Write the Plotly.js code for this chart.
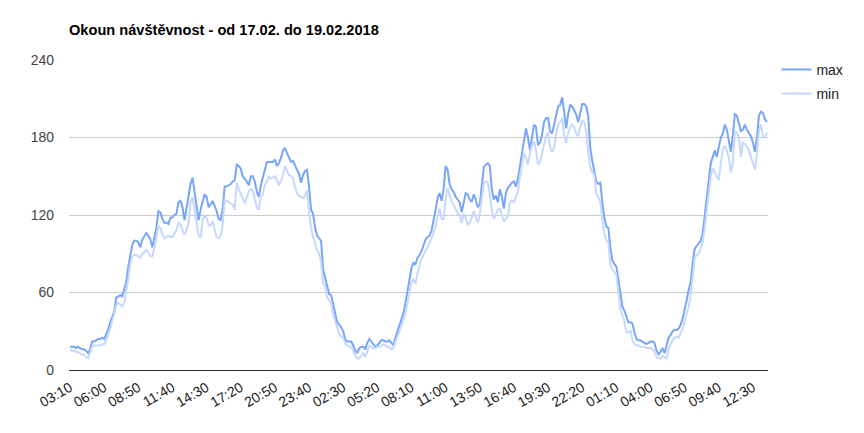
<!DOCTYPE html>
<html>
<head>
<meta charset="utf-8">
<script src="https://cdn.plot.ly/plotly-3.0.1.min.js"></script>
<style>
  html, body { margin: 0; padding: 0; background: #fff; }
  #chart { width: 864px; height: 433px; }
</style>
</head>
<body>
<div id="chart"></div>
<script>
// tick labels, one every 17 samples (10 min data, one gap after 17:20)
const tickLabels = ['03:10', '06:00', '08:50', '11:40', '14:30', '17:20', '20:50', '23:40', '02:30', '05:20', '08:10',
    '11:00', '13:50', '16:40', '19:30', '22:20', '01:10', '04:00', '06:50', '09:40', '12:30'];
const tickStep = 17;

const maxVals = [
    18, 18, 18, 17, 18, 17, 16, 16, 15, 13, 16, 22, 22, 23, 24, 24, 25, 24, 27, 31,
    37, 41, 45, 56, 57, 58, 57, 62, 68, 80, 90, 97, 100, 100, 99, 95, 101, 104, 106, 104,
    101, 95, 104, 110, 123, 122, 117, 114, 114, 113,
    118, 118, 120, 121, 130, 131, 126, 116, 125, 134, 144, 149, 138, 126, 116, 124, 131, 136, 134, 126,
    128, 131, 127, 123, 117, 116, 125, 142, 142, 143, 144, 146, 147, 159, 158, 156, 150, 148, 146, 143,
    150, 150, 146, 138, 134, 143, 149, 155, 161,
    161, 161, 161, 163, 158, 160, 164, 170, 172, 168, 165, 161, 162, 158, 155, 152, 145, 151, 154, 155,
    142, 124, 121, 110, 104, 102, 100, 78, 72, 64, 59, 58, 51, 43, 37, 35, 33, 30, 24, 22,
    22, 22, 19, 15, 13, 17, 18, 18,
    16, 21, 24, 22, 20, 18, 19, 21, 23, 23, 22, 22, 23, 21, 19, 25, 30, 35, 39, 44,
    52, 62, 72, 79, 83, 82, 87, 89, 92, 97, 101, 103, 104, 108, 115, 124, 133, 137, 131, 140,
    158, 155, 144, 140, 138, 134, 132, 130,
    122, 130, 137, 136, 132, 130, 136, 132, 126, 128, 145, 157, 159, 160, 158, 140, 132, 135, 130, 140,
    134, 125, 137, 141, 143, 145, 146, 142, 148, 158, 170, 180, 187, 180, 170, 180, 190, 188, 174, 176,
    182, 192, 195, 195, 185, 183, 190, 199, 204,
    205, 211, 200, 187, 198, 205, 204, 201, 198, 192, 200, 206, 206, 204, 197, 172, 162, 153, 146, 144,
    145, 130, 118, 111, 110, 95, 85, 82, 80, 70, 58, 49, 46, 41, 37, 37, 36, 29, 24, 23,
    23, 22, 21, 20, 21, 22, 22, 21, 15,
    12, 14, 17, 13, 20, 25, 27, 30, 31, 31, 32, 35, 40, 46, 54, 62, 68, 83, 94, 96,
    98, 100, 106, 120, 132, 148, 160, 165, 170, 165, 172, 180, 183, 190, 186, 176, 169, 182, 198, 197,
    191, 185, 186, 190, 186, 183, 181, 176, 169, 180, 197, 200, 199, 194, 192
];

const minVals = [
    16, 15, 15, 14, 14, 13, 12, 12, 10, 9, 13, 18, 19, 19, 19, 19, 20, 20, 23, 27,
    32, 38, 43, 50, 52, 51, 49, 52, 60, 70, 82, 88, 89, 89, 88, 87, 90, 91, 93, 91,
    88, 88, 95, 103, 111, 110, 105, 102, 103, 104,
    103, 103, 106, 108, 114, 113, 108, 105, 108, 114, 130, 134, 124, 112, 104, 103, 116, 119, 118, 112,
    112, 115, 108, 103, 102, 104, 112, 132, 131, 130, 129, 128, 124, 145, 140, 137, 133, 129, 134, 138,
    140, 139, 132, 126, 124, 134, 136, 143, 146,
    150, 148, 149, 150, 147, 143, 146, 150, 158, 154, 151, 150, 149, 142, 137, 135, 134, 133, 135, 139,
    122, 110, 103, 97, 93, 90, 84, 67, 65, 56, 54, 52, 43, 38, 32, 28, 26, 25, 21, 19,
    18, 18, 15, 11, 9, 9, 11, 13,
    10, 15, 19, 18, 17, 17, 18, 18, 19, 20, 19, 18, 18, 16, 17, 22, 26, 30, 34, 39,
    44, 52, 59, 68, 70, 67, 75, 80, 86, 89, 92, 94, 98, 102, 106, 111, 119, 125, 117, 117,
    133, 141, 135, 130, 128, 125, 121, 120,
    114, 121, 118, 112, 114, 118, 123, 118, 114, 120, 132, 145, 146, 145, 136, 124, 117, 120, 124, 125,
    120, 115, 117, 119, 130, 131, 130, 134, 138, 150, 160, 168, 164, 159, 168, 174, 177, 170, 159, 161,
    168, 176, 181, 184, 172, 169, 172, 182, 190,
    192, 195, 182, 176, 183, 188, 190, 188, 183, 181, 188, 193, 192, 185, 168, 157, 153, 151, 136, 134,
    130, 115, 105, 100, 99, 82, 78, 76, 74, 60, 47, 42, 38, 29, 29, 31, 23, 20, 19, 19,
    18, 18, 18, 17, 17, 17, 16, 14, 10,
    9, 9, 11, 10, 9, 16, 20, 23, 25, 26, 25, 28, 32, 38, 44, 49, 58, 75, 87, 89,
    90, 94, 99, 110, 125, 140, 150, 156, 153, 150, 147, 160, 170, 174, 170, 165, 153, 160, 185, 184,
    180, 165, 176, 175, 173, 170, 165, 160, 155, 168, 185, 190, 181, 180, 184
];

const idx = maxVals.map((_, i) => i);
const tickVals = tickLabels.map((_, i) => i * tickStep);

const data = [
    {
        x: idx,
        y: maxVals,
        type: 'scatter',
        mode: 'lines',
        name: 'max',
        legendgroup: 'max',
        line: { color: '#78a5fa', width: 2 },
    },
    {
        x: idx,
        y: minVals,
        type: 'scatter',
        mode: 'lines',
        name: 'min',
        legendgroup: 'min',
        line: { color: '#c6d9fd', width: 2 },
    },
];

const layout = {
    width: 864,
    height: 433,
    margin: { l: 69, r: 96, t: 60, b: 63 },
    paper_bgcolor: '#fff',
    plot_bgcolor: '#fff',
    font: { family: "'Liberation Sans', Arial, sans-serif", size: 14, color: '#222' },
    title: {
        text: '<b>Okoun návštěvnost - od 17.02. do 19.02.2018</b>',
        font: { size: 14.6, color: '#000' },
        xref: 'container',
        x: 69 / 864,
        xanchor: 'left',
        yref: 'container',
        y: 1 - 30 / 433,
        yanchor: 'middle',
    },
    xaxis: {
        range: [-0.5, idx.length - 0.5],
        tickvals: tickVals,
        ticktext: tickLabels,
        tickangle: -30,
        showgrid: false,
        zeroline: false,
        showline: false,
        ticks: '',
        ticklabelstandoff: 6,
        tickfont: { size: 14, color: '#222' },
        fixedrange: true,
    },
    yaxis: {
        range: [0, 240],
        tickvals: [0, 60, 120, 180, 240],
        showgrid: true,
        gridcolor: '#cccccc',
        zeroline: true,
        zerolinecolor: '#333333',
        zerolinewidth: 1,
        ticks: '',
        ticklabelstandoff: 14,
        tickfont: { size: 14, color: '#444' },
        fixedrange: true,
    },
    legend: {
        x: 1.012,
        xanchor: 'left',
        y: 1.02,
        yanchor: 'top',
        traceorder: 'grouped',
        tracegroupgap: 3,
        font: { size: 14, color: '#222' },
        bgcolor: 'rgba(0,0,0,0)',
        itemwidth: 30,
    },
    showlegend: true,
};

Plotly.newPlot('chart', data, layout, { displayModeBar: false, staticPlot: true });
</script>
</body>
</html>
